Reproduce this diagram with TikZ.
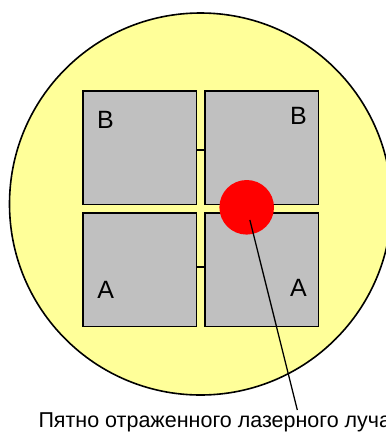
\documentclass[tikz,border=0pt]{standalone}
\usepackage{fontspec}
\setmainfont{Liberation Sans}
\definecolor{discyellow}{HTML}{FFFF99}
\definecolor{padgray}{HTML}{C0C0C0}
\definecolor{spotred}{HTML}{FF0000}
\begin{document}
\begin{tikzpicture}[x=1pt,y=-1pt,
  pad/.style={draw=black, line width=1.5pt, fill=padgray, minimum width=113.5pt, minimum height=113.5pt, inner sep=0pt, anchor=north west},
  lab/.style={font=\fontsize{25}{25}\selectfont, inner sep=0pt},
  tick/.style={line width=1.8pt},
  leader/.style={line width=1.3pt}]
\useasboundingbox (0,0) rectangle (386,432);
\clip (0,0) rectangle (386,432);
\node[circle, draw=black, line width=1.6pt, fill=discyellow, minimum size=382pt, inner sep=0pt] (disc) at (200.5,204) {};
\node[pad] (tl) at (82.3,90) {};
\node[pad] (tr) at (204.3,90) {};
\node[pad] (bl) at (82.3,212.3) {};
\node[pad] (br) at (204.3,212.3) {};
\draw[tick] (tl.east |- 0,150) -- (tr.west |- 0,150);
\draw[tick] (bl.east |- 0,267) -- (br.west |- 0,267);
\node[lab] (ltl) at (105.5,120) {B};
\node[lab] (ltr) at (298.5,116) {B};
\node[lab] (lbl) at (105.8,289.5) {A};
\node[lab] (lbr) at (298.5,288.3) {A};
\node[circle, fill=spotred, minimum size=54.6pt, inner sep=0pt] (spot) at (246.7,207.3) {};
\coordinate (tip) at (297.3,410);
\draw[leader, shorten <=13pt] (spot.center) -- (tip);
\node[anchor=base west, inner sep=0pt, font=\fontsize{21.5}{21.5}\selectfont] (caption) at (38.3,427) {Пятно отраженного лазерного луча};
\end{tikzpicture}
\end{document}
